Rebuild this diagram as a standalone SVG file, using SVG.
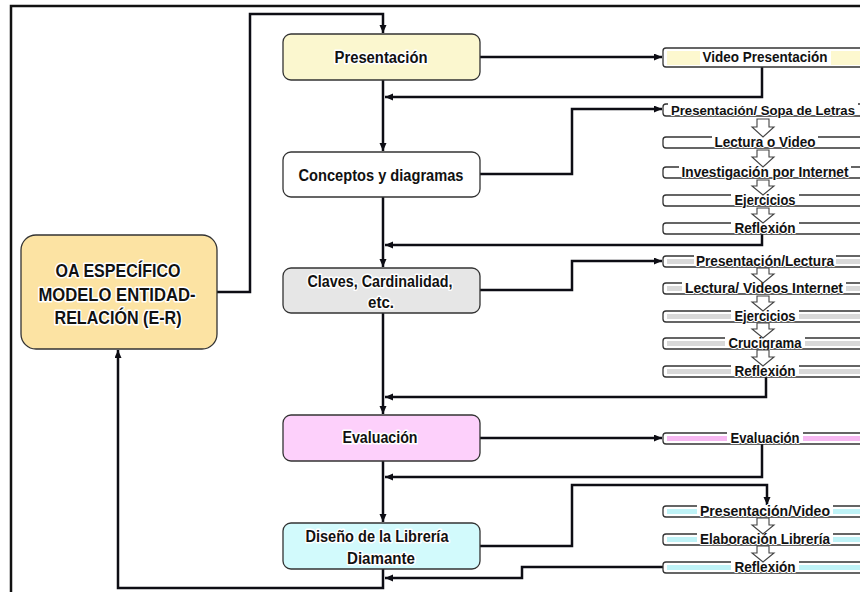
<svg xmlns="http://www.w3.org/2000/svg" width="860" height="592" viewBox="0 0 860 592">
<defs>
<marker id="ah" markerUnits="userSpaceOnUse" markerWidth="9" markerHeight="8" refX="8" refY="3.5" orient="auto">
<path d="M0,0 L8,3.5 L0,7 z" fill="#0d0d14"/>
</marker>
<style>
.frame{fill:none;stroke:#111;stroke-width:2.5}
.c{fill:none;stroke:#0d0d14;stroke-width:2.5;marker-end:url(#ah)}
.mb{stroke:#333;stroke-width:1.3}
.lb{fill:#fff;stroke:#333;stroke-width:1.3}
.t{font-family:"Liberation Sans",Arial,sans-serif;font-weight:bold;fill:#111;text-anchor:middle;stroke:#fff;stroke-width:3;paint-order:stroke;stroke-linejoin:round}
.mt{font-size:16px}
.ot{font-size:18px}
.lt{font-size:14.5px;stroke-width:2}
.bg{fill:#fff}
.ha{fill:#fff;stroke:#444;stroke-width:1.1}
</style>
</defs>
<rect width="860" height="592" fill="#fff"/>
<path class="frame" d="M11,592 V6 H860"/>

<g id="connectors">
<path class="c" d="M217,292 H250 V14 H383 V33"/>
<path class="c" d="M383,80 V151"/>
<path class="c" d="M480,57 H662"/>
<path class="c" d="M762,67 V97 H385"/>
<path class="c" d="M480,174 H572 V109 H662"/>
<path class="c" d="M383,197 V267"/>
<path class="c" d="M762,234 V245 H385"/>
<path class="c" d="M480,290 H572 V261 H662"/>
<path class="c" d="M383,313 V414"/>
<path class="c" d="M766,377 V397 H385"/>
<path class="c" d="M480,438 H662"/>
<path class="c" d="M383,461 V522"/>
<path class="c" d="M762,444 V477 H385"/>
<path class="c" d="M480,546 H572 V485 H767 V505"/>
<path class="c" d="M663,567 H522 V578 H385"/>
<path class="c" d="M383,569 V588 H118 V350"/>
</g>

<g id="oa">
<rect x="21" y="235" width="196" height="114" rx="15" fill="#fce3a3" class="mb"/>
<text class="t ot" x="118" y="277" textLength="125" lengthAdjust="spacingAndGlyphs">OA ESPECÍFICO</text>
<text class="t ot" x="117" y="301" textLength="157" lengthAdjust="spacingAndGlyphs">MODELO ENTIDAD-</text>
<text class="t ot" x="118" y="324" textLength="127" lengthAdjust="spacingAndGlyphs">RELACIÓN (E-R)</text>
</g>

<g id="presentacion">
<rect x="283" y="34" width="197" height="46" rx="8" fill="#fbf7cf" class="mb"/>
<text class="t mt" x="381" y="63" textLength="93" lengthAdjust="spacingAndGlyphs">Presentación</text>
</g>
<g id="conceptos">
<rect x="283" y="152" width="197" height="45" rx="8" fill="#fff" class="mb"/>
<text class="t mt" x="381" y="181" textLength="165" lengthAdjust="spacingAndGlyphs">Conceptos y diagramas</text>
</g>
<g id="claves">
<rect x="283" y="268" width="197" height="45" rx="8" fill="#e6e6e6" class="mb"/>
<text class="t mt" x="380" y="287" textLength="145" lengthAdjust="spacingAndGlyphs">Claves, Cardinalidad,</text>
<text class="t mt" x="381" y="308" textLength="26" lengthAdjust="spacingAndGlyphs">etc.</text>
</g>
<g id="evaluacion">
<rect x="283" y="415" width="197" height="46" rx="8" fill="#fdd0fb" class="mb"/>
<text class="t mt" x="380" y="443" textLength="75" lengthAdjust="spacingAndGlyphs">Evaluación</text>
</g>
<g id="diseno">
<rect x="283" y="523" width="197" height="46" rx="8" fill="#d2fafc" class="mb"/>
<text class="t mt" x="377" y="542" textLength="143" lengthAdjust="spacingAndGlyphs">Diseño de  la Librería</text>
<text class="t mt" x="381" y="564" textLength="68" lengthAdjust="spacingAndGlyphs">Diamante</text>
</g>

<g id="video">
<rect x="663" y="48" width="210" height="19" rx="3" class="lb"/>
<rect x="667" y="51" width="200" height="14" fill="#fdf8cf"/>
<rect x="700" y="50" width="131" height="15" class="bg"/>
<text class="t lt" x="765" y="62" textLength="125" lengthAdjust="spacingAndGlyphs">Video Presentación</text>
</g>

<g id="c1">
<rect x="663" y="104" width="210" height="12" rx="3" class="lb"/>
<rect x="668" y="103" width="190" height="11" class="bg"/>
<text class="t lt" x="763" y="115" style="font-size:13.2px" textLength="184" lengthAdjust="spacingAndGlyphs">Presentación/ Sopa de Letras</text>
</g>
<g id="c2">
<rect x="663" y="137" width="210" height="11" rx="3" class="lb"/>
<rect x="712" y="136" width="106" height="10" class="bg"/>
<text class="t lt" x="765" y="147" textLength="101" lengthAdjust="spacingAndGlyphs">Lectura o Video</text>
</g>
<g id="c3">
<rect x="663" y="167" width="210" height="11" rx="3" class="lb"/>
<rect x="679" y="166" width="172" height="10" class="bg"/>
<text class="t lt" x="765" y="177" textLength="167" lengthAdjust="spacingAndGlyphs">Investigación por Internet</text>
</g>
<g id="c4">
<rect x="663" y="195" width="210" height="11" rx="3" class="lb"/>
<rect x="731" y="194" width="68" height="10" class="bg"/>
<text class="t lt" x="765" y="205" textLength="61" lengthAdjust="spacingAndGlyphs">Ejercicios</text>
</g>
<g id="c5">
<rect x="663" y="223" width="210" height="11" rx="3" class="lb"/>
<rect x="731" y="222" width="68" height="10" class="bg"/>
<text class="t lt" x="765" y="233" textLength="61" lengthAdjust="spacingAndGlyphs">Reflexión</text>
</g>

<g id="k1">
<rect x="663" y="256" width="210" height="11" rx="3" class="lb"/>
<rect x="667" y="259" width="200" height="5" fill="#d9d9d9"/>
<rect x="694" y="255" width="142" height="10" class="bg"/>
<text class="t lt" x="765" y="266" textLength="138" lengthAdjust="spacingAndGlyphs">Presentación/Lectura</text>
</g>
<g id="k2">
<rect x="663" y="283" width="210" height="11" rx="3" class="lb"/>
<rect x="667" y="286" width="200" height="5" fill="#d9d9d9"/>
<rect x="682" y="282" width="164" height="10" class="bg"/>
<text class="t lt" x="764" y="293" textLength="158" lengthAdjust="spacingAndGlyphs">Lectura/ Videos Internet</text>
</g>
<g id="k3">
<rect x="663" y="311" width="210" height="11" rx="3" class="lb"/>
<rect x="667" y="314" width="200" height="5" fill="#d9d9d9"/>
<rect x="731" y="310" width="68" height="10" class="bg"/>
<text class="t lt" x="765" y="321" textLength="61" lengthAdjust="spacingAndGlyphs">Ejercicios</text>
</g>
<g id="k4">
<rect x="663" y="338" width="210" height="11" rx="3" class="lb"/>
<rect x="667" y="341" width="200" height="5" fill="#d9d9d9"/>
<rect x="725" y="337" width="80" height="10" class="bg"/>
<text class="t lt" x="765" y="348" textLength="73" lengthAdjust="spacingAndGlyphs">Crucigrama</text>
</g>
<g id="k5">
<rect x="663" y="366" width="210" height="11" rx="3" class="lb"/>
<rect x="667" y="369" width="200" height="5" fill="#d9d9d9"/>
<rect x="731" y="365" width="68" height="10" class="bg"/>
<text class="t lt" x="765" y="376" textLength="61" lengthAdjust="spacingAndGlyphs">Reflexión</text>
</g>

<g id="e1">
<rect x="663" y="433" width="210" height="11" rx="3" class="lb"/>
<rect x="667" y="436" width="200" height="5" fill="#f7b8f2"/>
<rect x="727" y="432" width="76" height="10" class="bg"/>
<text class="t lt" x="765" y="443" textLength="69" lengthAdjust="spacingAndGlyphs">Evaluación</text>
</g>

<g id="d1">
<rect x="663" y="506" width="210" height="11" rx="3" class="lb"/>
<rect x="667" y="509" width="200" height="5" fill="#bff3f7"/>
<rect x="697" y="505" width="136" height="10" class="bg"/>
<text class="t lt" x="765" y="516" textLength="130" lengthAdjust="spacingAndGlyphs">Presentación/Video</text>
</g>
<g id="d2">
<rect x="663" y="534" width="210" height="11" rx="3" class="lb"/>
<rect x="667" y="537" width="200" height="5" fill="#bff3f7"/>
<rect x="697" y="533" width="136" height="10" class="bg"/>
<text class="t lt" x="765" y="544" textLength="130" lengthAdjust="spacingAndGlyphs">Elaboración Librería</text>
</g>
<g id="d3">
<rect x="663" y="562" width="210" height="11" rx="3" class="lb"/>
<rect x="667" y="565" width="200" height="5" fill="#bff3f7"/>
<rect x="731" y="561" width="68" height="10" class="bg"/>
<text class="t lt" x="765" y="572" textLength="61" lengthAdjust="spacingAndGlyphs">Reflexión</text>
</g>

<g id="hollow-arrows">
<path class="ha" d="M757,119 H769 V127 H774 L763,137 L752,127 H757 Z"/>
<path class="ha" d="M757,150 H769 V157 H774 L763,167 L752,157 H757 Z"/>
<path class="ha" d="M757,180 H769 V186 H774 L763,195 L752,186 H757 Z"/>
<path class="ha" d="M757,208 H769 V214 H774 L763,223 L752,214 H757 Z"/>
<path class="ha" d="M757,268 H769 V274 H774 L763,283 L752,274 H757 Z"/>
<path class="ha" d="M757,296 H769 V302 H774 L763,311 L752,302 H757 Z"/>
<path class="ha" d="M757,323 H769 V329 H774 L763,338 L752,329 H757 Z"/>
<path class="ha" d="M757,350 H769 V357 H774 L763,366 L752,357 H757 Z"/>
<path class="ha" d="M757,518 H769 V525 H774 L763,534 L752,525 H757 Z"/>
<path class="ha" d="M757,546 H769 V553 H774 L763,562 L752,553 H757 Z"/>
</g>
</svg>
